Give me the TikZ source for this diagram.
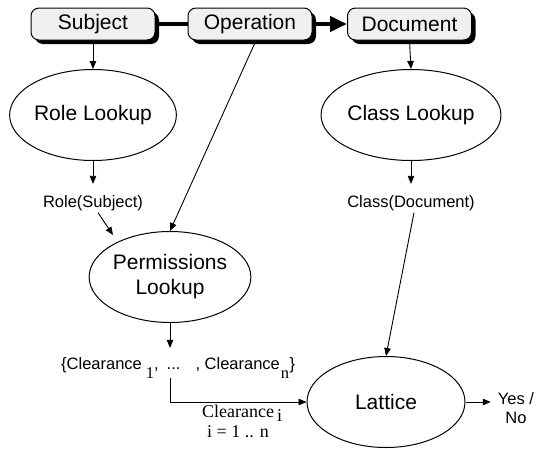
\documentclass[tikz,border=0pt]{standalone}
\usepackage{fontspec}
\setmainfont{Liberation Sans}
\newfontfamily\timesfont{Liberation Serif}
\usetikzlibrary{arrows.meta,shapes.geometric,shadows,calc}

\begin{document}
\begin{tikzpicture}[x=1pt,y=-1pt,
  entity/.style={draw=black, line width=1pt, fill=gray!12, rounded corners=8pt,
    minimum width=124pt, minimum height=32pt, inner sep=0pt,
    font=\fontsize{21}{24}\selectfont,
    drop shadow={shadow xshift=4pt, shadow yshift=-4pt, fill=black, opacity=1}},
  proc/.style={ellipse, draw, line width=1pt, minimum width=158pt, minimum height=91pt,
    inner sep=0pt, align=center, font=\fontsize{21}{25}\selectfont},
  lbl/.style={inner sep=0pt, font=\fontsize{16.5}{19}\selectfont},
  tlbl/.style={inner sep=0pt, font=\timesfont\fontsize{18}{20}\selectfont},
  arr/.style={line width=0.9pt, -{Triangle[length=8pt,width=6.5pt]}},
  link/.style={line width=4pt}]
\useasboundingbox (0,0) rectangle (539,448);

% top row: the three request parts
\node[entity] (subj) at (93,24)    {Subject};
\node[entity] (op)   at (250,24)   {Operation};
\node[entity] (doc)  at (409.5,24) {Document};

% lookup stages
\node[proc] (role)  at (93,115)  {Role Lookup};
\node[proc] (class) at (411,115) {Class Lookup};
\node[proc] (perm)  at (170,277) {Permissions\\Lookup};
\node[proc] (lat)   at (386,402) {Lattice};

% intermediate values
\node[lbl, anchor=base] (rs) at (93,207)  {Role(Subject)};
\node[lbl, anchor=base] (cd) at (411,207) {Class(Document)};
\node[lbl, anchor=base west] (cl) at (61,369)
  {\{Clearance\hspace{4pt}\raisebox{-9pt}{\timesfont 1},\hspace{8pt}...\hspace{15pt},~Clearance\hspace{1pt}\raisebox{-9pt}{\timesfont n}\hspace{0.5pt}\}};
\node[tlbl, anchor=base west] (ci)  at (202,417) {Clearance\hspace{3pt}\raisebox{-4pt}{i}};
\node[tlbl, anchor=base west] (rng) at (207,437) {i = 1 .. n};
\node[lbl, align=center] (yn) at (516,408) {Yes /\\No};

% thick links between the request parts
\draw[link] (subj.east) -- (op.west);
\draw[link, -{Triangle[length=17pt,width=15pt]}] (op.east) -- (doc.west);

% data flow
\draw[arr] (subj.south) -- (role.north);
\draw[arr] (doc.south) -- (class.north);
\draw[arr, shorten >=11pt] (role.south) -- (rs.north);
\draw[arr, shorten >=11pt] (class.south) -- (cd.north);
\draw[arr] ([xshift=5pt,yshift=-2pt]rs.south) -- ($(perm.center)+(-57,-42)$);
\draw[arr] ([xshift=6pt]op.south) -- (perm.north);
\draw[arr] ([xshift=3pt,yshift=-2pt]cd.south) -- (lat.north);
\draw[arr, shorten >=9pt] (perm.south) -- (perm.south |- cl.north);
\draw[arr] (perm.south |- cl.south) |- (lat.west);
\draw[arr, shorten >=7pt] (lat.east) -- (lat.east -| yn.west);
\end{tikzpicture}
\end{document}
